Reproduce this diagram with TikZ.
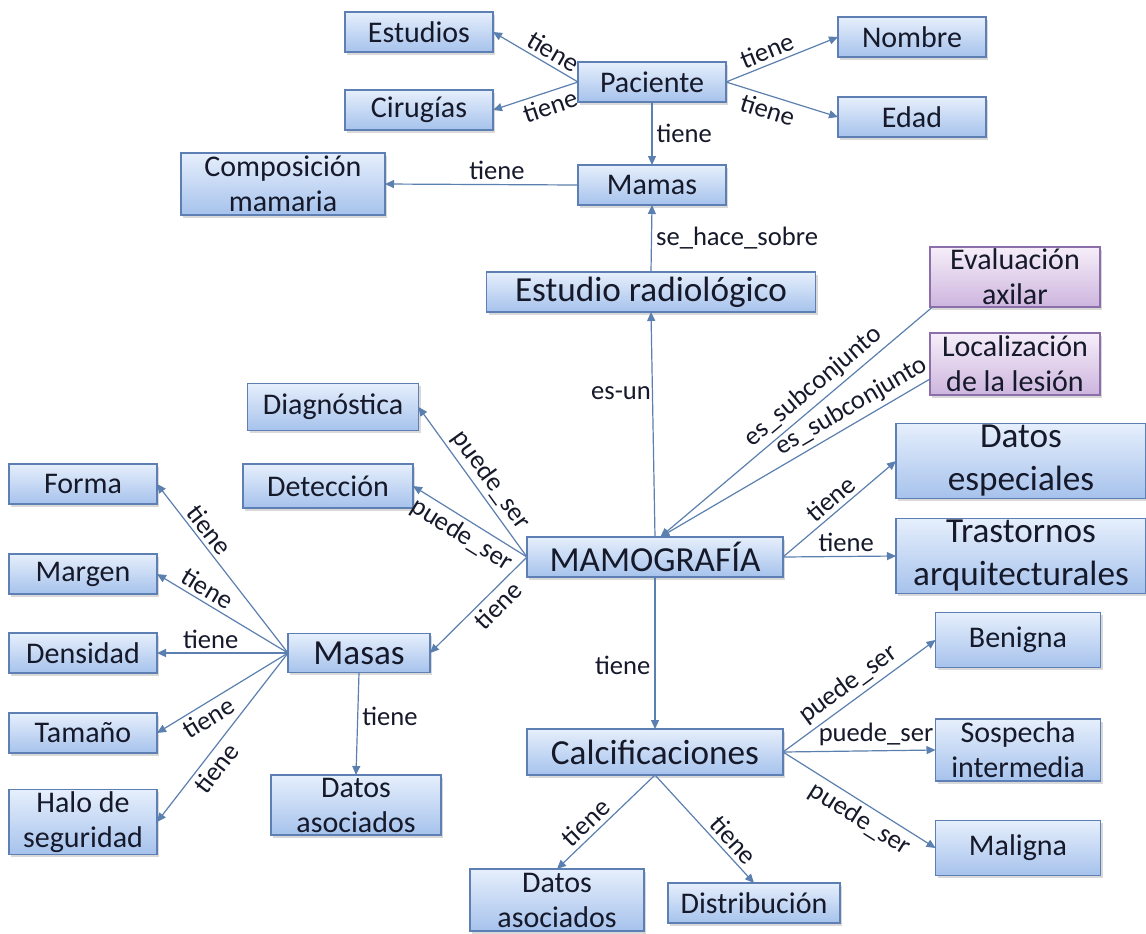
\documentclass[tikz,border=0pt]{standalone}
\usepackage{fontspec}
\setmainfont{Carlito}
\usetikzlibrary{arrows.meta, shadows}

\begin{document}
\begin{tikzpicture}[x=0.5pt, y=-0.5pt,
    concept/.style={rectangle, draw=boxline, line width=0.6pt,
                    top color=boxtop, bottom color=boxbottom,
                    text=txt, align=center, inner sep=1pt, outer sep=0pt,
                    font=\fontsize{15}{17.5}\selectfont,
                    drop shadow={shadow xshift=1.2pt, shadow yshift=-1.3pt,
                                 opacity=0.3}},
    unit/.style={minimum width=74pt, minimum height=20pt},
    big/.style={font=\fontsize{17.6}{21.5}\selectfont},
    subset/.style={concept, draw=subline, top color=subtop,
                   bottom color=subbottom},
    link/.style={draw=linkblue, line width=0.6pt,
                 -{Triangle[length=4.5pt, width=4pt]}},
    lbl/.style={font=\fontsize{13.3}{15}\selectfont, text=txt, inner sep=2pt}
]
\definecolor{boxtop}{HTML}{E6EFFC}
\definecolor{boxbottom}{HTML}{A6C2EC}
\definecolor{boxline}{HTML}{5D7FB4}
\definecolor{subtop}{HTML}{F6EEF9}
\definecolor{subbottom}{HTML}{CDB5DE}
\definecolor{subline}{HTML}{8C6FAA}
\definecolor{linkblue}{HTML}{5B7FAE}
\definecolor{txt}{HTML}{15192A}

\useasboundingbox (0,0) rectangle (1146,933);

% paciente
\node[concept, unit] (paciente) at (652,82) {Paciente};
\node[concept, unit] (estudios) at (419,32) {Estudios};
\node[concept, unit] (cirugias) at (419,110) {Cirugías};
\node[concept, unit] (nombre) at (912,37) {Nombre};
\node[concept, unit] (edad) at (912,117) {Edad};
\node[concept, unit] (mamas) at (652,185) {Mamas};
\node[concept, minimum width=102pt, minimum height=31pt] (compos) at (283,184)
    {Composición\\mamaria};
\node[concept, big, minimum width=164.5pt, minimum height=20pt] (radio) at (651,292)
    {Estudio radiológico};
\node[subset, minimum width=85pt, minimum height=30pt] (axilar) at (1015,277)
    {Evaluación\\axilar};
\node[subset, minimum width=85pt, minimum height=31pt] (lesion) at (1015,364)
    {Localización\\de la lesión};

% mamografia
\node[concept, big, minimum width=128pt, minimum height=20pt] (mamo) at (655,557)
    {MAMOGRAFÍA};
\node[concept, minimum width=85.5pt, minimum height=23.5pt] (diag) at (333,407)
    {Diagnóstica};
\node[concept, minimum width=85pt, minimum height=22pt] (deteccion) at (328,486)
    {Detección};
\node[concept, big, minimum width=125pt, minimum height=37pt] (especiales) at (1021,461)
    {Datos\\especiales};
\node[concept, big, minimum width=125pt, minimum height=36.5pt] (trastornos) at (1021,556)
    {Trastornos\\arquitecturales};

% masas
\node[concept, big, minimum width=71pt, minimum height=19.5pt] (masas) at (359,653)
    {Masas};
\node[concept, unit] (forma) at (83,484) {Forma};
\node[concept, unit] (margen) at (83,574) {Margen};
\node[concept, unit] (densidad) at (83,653) {Densidad};
\node[concept, unit] (tamano) at (83,733) {Tamaño};
\node[concept, minimum width=74pt, minimum height=31pt] (halo) at (83,822)
    {Halo de\\seguridad};
\node[concept, minimum width=85pt, minimum height=30pt] (asocmasas) at (356,805)
    {Datos\\asociados};

% calcificaciones
\node[concept, big, minimum width=128pt, minimum height=23pt] (calc) at (655,752)
    {Calcificaciones};
\node[concept, minimum width=82.5pt, minimum height=27.5pt] (benigna) at (1018,640)
    {Benigna};
\node[concept, minimum width=82.5pt, minimum height=31pt] (sospecha) at (1018,750)
    {Sospecha\\intermedia};
\node[concept, minimum width=82.5pt, minimum height=27.5pt] (maligna) at (1018,848)
    {Maligna};
\node[concept, minimum width=87pt, minimum height=31pt] (asoccalc) at (557,900)
    {Datos\\asociados};
\node[concept, minimum width=86pt, minimum height=20pt] (distrib) at (754,903)
    {Distribución};

\draw[link] (paciente.west) -- node[lbl, above, sloped, pos=0.37] {tiene} (estudios.east);
\draw[link] (paciente.west) -- node[lbl, below, sloped, pos=0.38] {tiene} (cirugias.east);
\draw[link] (paciente.east) -- node[lbl, above, sloped, pos=0.41] {tiene} (nombre.west);
\draw[link] (paciente.east) -- node[lbl, below, sloped, pos=0.41] {tiene} (edad.west);
\draw[link] (paciente.south) -- node[lbl, right] {tiene} (mamas.north);
\draw[link] (mamas.west) -- node[lbl, above, pos=0.42] {tiene} (compos.east);
\draw[link] (radio.north) -- node[lbl, right, pos=0.5] {se\_hace\_sobre} (mamas.south);
\draw[link] (mamo.north) -- node[lbl, left, pos=0.64, inner sep=0.5pt] {es-un} (radio.south);
\draw[link] (axilar.200) -- node[lbl, above, sloped, pos=0.4] {es\_subconjunto} (mamo.75);
\draw[link] (lesion.190) -- node[lbl, above, sloped, pos=0.26] {es\_subconjunto} (mamo.75);

\draw[link] (mamo.west) -- node[lbl, above, sloped, pos=0.45] {puede\_ser} (diag.east);
\draw[link] (mamo.west) -- node[lbl, below, sloped, pos=0.5] {puede\_ser} (deteccion.east);
\draw[link] (mamo.west) -- node[lbl, below, sloped, pos=0.4] {tiene} (masas.east);
\draw[link] (mamo.east) -- node[lbl, above, sloped, pos=0.5] {tiene} (especiales.west);
\draw[link] (mamo.east) -- node[lbl, above, pos=0.56] {tiene} (trastornos.west);
\draw[link] (mamo.south) -- node[lbl, left, pos=0.58] {tiene} (calc.north);

\draw[link] (masas.west) -- node[lbl, above, sloped, pos=0.68] {tiene} (forma.east);
\draw[link] (masas.west) -- node[lbl, above, sloped, pos=0.67] {tiene} (margen.east);
\draw[link] (masas.west) -- node[lbl, above, pos=0.59] {tiene} (densidad.east);
\draw[link] (masas.west) -- node[lbl, below, sloped, pos=0.66] {tiene} (tamano.east);
\draw[link] (masas.west) -- node[lbl, below, sloped, pos=0.63] {tiene} (halo.east);
\draw[link] (masas.south) -- node[lbl, right, pos=0.43] {tiene} (asocmasas.north);

\draw[link] (calc.east) -- node[lbl, above, sloped, pos=0.49] {puede\_ser} (benigna.west);
\draw[link] (calc.east) -- node[lbl, above, pos=0.61] {puede\_ser} (sospecha.west);
\draw[link] (calc.east) -- node[lbl, below, sloped, pos=0.56] {puede\_ser} (maligna.west);
\draw[link] (calc.south) -- node[lbl, above, sloped, pos=0.61] {tiene} (asoccalc.north);
\draw[link] (calc.south) -- node[lbl, above, sloped, pos=0.69] {tiene} (distrib.north);
\end{tikzpicture}
\end{document}
